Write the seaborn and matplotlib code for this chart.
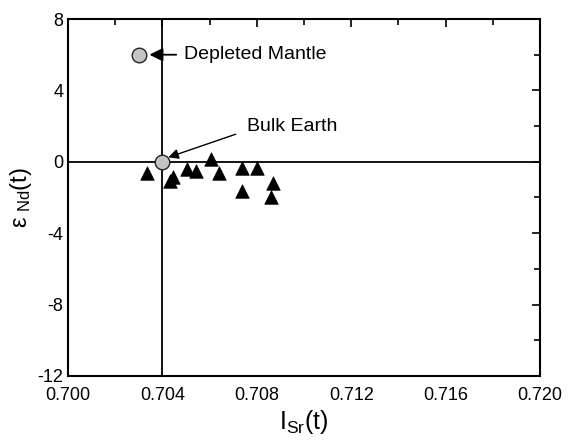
import matplotlib
matplotlib.use("Agg")
import matplotlib.pyplot as plt
import seaborn as sns
import pandas as pd
from matplotlib.ticker import MultipleLocator

sns.set_style("white")
plt.rcParams['font.family'] = ['Liberation Sans', 'DejaVu Sans']
plt.rcParams['mathtext.fontset'] = 'custom'
plt.rcParams['mathtext.rm'] = 'Liberation Sans'
plt.rcParams['text.color'] = 'black'
plt.rcParams['axes.labelcolor'] = 'black'

# Sample data (triangles)
sample_isr = [0.70333, 0.70432, 0.70445, 0.70503, 0.70542, 0.70606, 0.70641,
              0.70736, 0.70802, 0.70736, 0.70870, 0.70860]
sample_end = [-0.61, -1.05, -0.85, -0.42, -0.50, 0.13, -0.61,
              -0.37, -0.37, -1.62, -1.20, -1.95]

# Reservoirs (circles)
res_names = ["Depleted Mantle", "Bulk Earth"]
res_isr = [0.7030, 0.7040]
res_end = [6.0, 0.0]

x_ticks = [0.700, 0.704, 0.708, 0.712, 0.716, 0.720]
y_ticks = [-12, -8, -4, 0, 4, 8]

samples = pd.DataFrame({"isr": sample_isr, "end": sample_end})
res = pd.DataFrame({"name": res_names, "isr": res_isr, "end": res_end})

fig = plt.figure(figsize=(5.68, 4.40), dpi=100)
ax = fig.add_axes([0.1197, 0.1455, 0.8310, 0.8113])

ax.axvline(0.704, color="black", lw=1.3, zorder=1)
ax.axhline(0, color="black", lw=1.3, zorder=1)

sns.scatterplot(data=samples, x="isr", y="end", marker="^", s=95,
                color="black", edgecolor="black", linewidth=0.5, ax=ax, zorder=3)
sns.scatterplot(data=res, x="isr", y="end", marker="o", s=110,
                color="#c4c4c4", edgecolor="#222222", linewidth=1.0, ax=ax, zorder=4)

ax.set_xlim(0.700, 0.720)
ax.set_ylim(-12, 8)
ax.set_xticks(x_ticks)
ax.set_xticklabels([f"{v:.3f}" for v in x_ticks])
ax.set_yticks(y_ticks)
ax.set_yticklabels([str(v) for v in y_ticks])
ax.xaxis.set_minor_locator(MultipleLocator(0.002))
ax.yaxis.set_minor_locator(MultipleLocator(2))
ax.tick_params(which="both", direction="in", top=True, right=True,
               labelsize=13, colors="black", width=1.2)
ax.tick_params(which="major", length=6)
ax.tick_params(which="minor", length=4)
ax.tick_params(axis="x", pad=8)
for sp in ax.spines.values():
    sp.set_color("black")
    sp.set_linewidth(1.5)

ax.set_xlabel(r"$\mathregular{I_{Sr}(t)}$", fontsize=18, labelpad=3)
ax.set_ylabel(r"$\mathregular{\varepsilon_{\ Nd}(t)}$", fontsize=17, labelpad=2)

ax.annotate("Depleted Mantle", xy=(0.70345, 6.0), xytext=(0.70490, 6.0),
            fontsize=14, va="center", ha="left",
            arrowprops=dict(arrowstyle="-|>", color="black", lw=1.3,
                            mutation_scale=20, shrinkA=3, shrinkB=0,
                            relpos=(0, 0.5)))
ax.annotate("Bulk Earth", xy=(0.70425, 0.25), xytext=(0.70758, 1.95),
            fontsize=14, va="center", ha="left",
            arrowprops=dict(arrowstyle="-|>", color="black", lw=1.0,
                            mutation_scale=15, shrinkA=6, shrinkB=0,
                            relpos=(0, 0.3)))

fig.savefig("out.png", dpi=100)
